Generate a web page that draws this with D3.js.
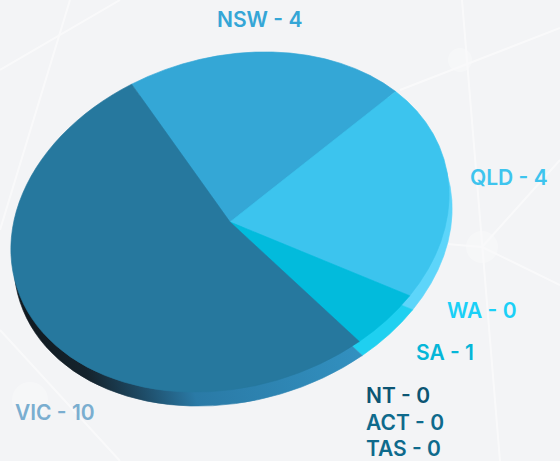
<!DOCTYPE html>
<html>
<head>
<meta charset="utf-8">
<script src="https://cdn.jsdelivr.net/npm/d3@7"></script>
<style>
  body { margin: 0; background: #f3f4f6; }
  svg { display: block; }
  .label { font-family: Inter, Lato, sans-serif; font-weight: 600; font-size: 21px; }
</style>
</head>
<body>
<svg id="chart"></svg>
<script>
// data
const states = ['NSW', 'QLD', 'WA', 'SA', 'NT', 'ACT', 'TAS', 'VIC'];
const counts = [4, 4, 0, 1, 0, 0, 0, 10];

// colours per state: top face, side wall, label
const topColours = ['#34a7d6', '#3cc4ee', '#5ad4f8', '#02bbdc', '#0c5573', '#0e6a8c', '#0e6a8c', '#26789e'];
const sideColours = ['#2f97c4', '#5dd5fa', '#60d8fb', '#1fd0f0', '#0c5573', '#0e6a8c', '#0e6a8c', 'url(#vicSide)'];
const labelColours = ['#35a6d6', '#3ec4ee', '#1ad0f7', '#05b6d8', '#0c5573', '#0e6a8c', '#0e6a8c', '#7aaed0'];

// where each label sits (left x, baseline y)
const labelAt = [[217, 27], [470, 185], [447, 318], [416, 360], [366, 403], [366, 430], [366, 456], [15, 420]];

class Pie3D {

    constructor(_config, _data) {
        this.config = {
            parentElement: _config.parentElement,
            containerWidth: _config.containerWidth || 560,
            containerHeight: _config.containerHeight || 461,
            cx: 230, cy: 222,
            rx: 223, ry: 165,
            tilt: -16,
            depth: [3, 14],
            startAngle: -14.7 * Math.PI / 180
        }
        this.data = _data;
        this.initVis();
    }

    initVis() {
        let vis = this;
        const c = vis.config;

        vis.svg = d3.select(c.parentElement)
            .attr('width', c.containerWidth)
            .attr('height', c.containerHeight);

        // faint network lines in the background
        const bg = vis.svg.append('g')
            .attr('stroke', '#ffffff')
            .attr('stroke-width', 2)
            .attr('opacity', 0.5);
        [[0, 70, 120, 0], [0, 230, 70, 0], [462, 0, 500, 461], [400, 90, 560, 28],
         [482, 247, 560, 160], [482, 247, 560, 285], [400, 240, 482, 247], [0, 330, 120, 461]].forEach(l => {
            bg.append('line').attr('x1', l[0]).attr('y1', l[1]).attr('x2', l[2]).attr('y2', l[3]);
        });
        bg.append('circle').attr('cx', 482).attr('cy', 247).attr('r', 16)
            .attr('fill', '#ffffff').attr('stroke', 'none').attr('opacity', 0.6);
        bg.append('circle').attr('cx', 460).attr('cy', 60).attr('r', 12)
            .attr('fill', '#ffffff').attr('stroke', 'none').attr('opacity', 0.6);
        bg.append('circle').attr('cx', 30).attr('cy', 400).attr('r', 18)
            .attr('fill', '#ffffff').attr('stroke', 'none').attr('opacity', 0.6);

        // gradient on the VIC wall: dark at the back left, lighter to the front
        const grad = vis.svg.append('defs').append('linearGradient')
            .attr('id', 'vicSide')
            .attr('gradientUnits', 'userSpaceOnUse')
            .attr('x1', -100).attr('y1', 0).attr('x2', 100).attr('y2', 0);
        [[0, '#111a21'], [0.1, '#15232d'], [0.2, '#1d4862'], [0.32, '#2a7aa6'], [0.75, '#3393c3']]
            .forEach(s => grad.append('stop').attr('offset', s[0]).attr('stop-color', s[1]));

        vis.pie = d3.pie()
            .sort(null)
            .value(d => d.count)
            .startAngle(c.startAngle)
            .endAngle(c.startAngle + 2 * Math.PI);

        vis.arc = d3.arc()
            .innerRadius(0)
            .outerRadius(100);

        const shape = `rotate(${c.tilt}) scale(${c.rx / 100},${c.ry / 100})`;

        vis.sideGroup = vis.svg.append('g')
            .attr('transform', `translate(${c.cx + c.depth[0]},${c.cy + c.depth[1]}) ${shape}`);

        vis.topGroup = vis.svg.append('g')
            .attr('transform', `translate(${c.cx},${c.cy}) ${shape}`);

        vis.labelGroup = vis.svg.append('g');

        vis.updateVis();
    }

    updateVis() {
        let vis = this;
        vis.slices = vis.pie(vis.data).filter(d => d.data.count > 0);
        vis.renderVis();
    }

    renderVis() {
        let vis = this;

        vis.sideGroup.selectAll('path')
            .data(vis.slices)
            .join('path')
                .attr('d', vis.arc)
                .attr('fill', d => d.data.side)
                .attr('stroke', d => d.data.side)
                .attr('stroke-width', 0.3);

        vis.topGroup.selectAll('path')
            .data(vis.slices)
            .join('path')
                .attr('d', vis.arc)
                .attr('fill', d => d.data.top)
                .attr('stroke', d => d.data.top)
                .attr('stroke-width', 0.3);

        vis.labelGroup.selectAll('text')
            .data(vis.data)
            .join('text')
                .attr('class', 'label')
                .attr('x', d => d.at[0])
                .attr('y', d => d.at[1])
                .attr('fill', d => d.label)
                .text(d => `${d.state} - ${d.count}`);
    }
}

const rows = states.map((s, i) => ({
    state: s,
    count: counts[i],
    top: topColours[i],
    side: sideColours[i],
    label: labelColours[i],
    at: labelAt[i]
}));

new Pie3D({ parentElement: '#chart' }, rows);
</script>
</body>
</html>
